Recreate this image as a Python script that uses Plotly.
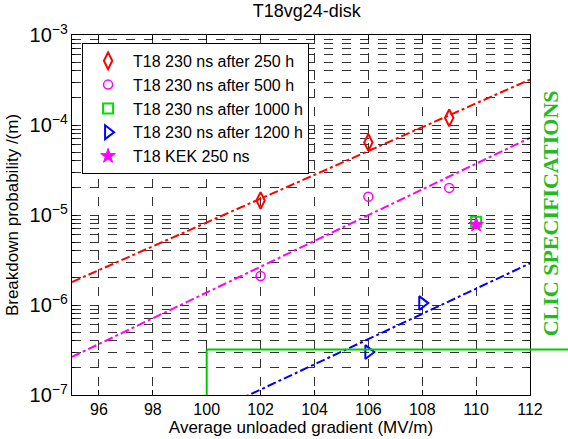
import math
import plotly.graph_objects as go

# Data
x_250h = [102, 106, 109]
y_250h = [1.45e-5, 6.4e-5, 1.2e-4]
x_500h = [102, 106, 109]
y_500h = [2.1e-6, 1.6e-5, 2.0e-5]
x_1000h = [110]
y_1000h = [8.4e-6]
x_1200h = [106, 108]
y_1200h = [3.0e-7, 1.05e-6]
x_kek = [110]
y_kek = [7.8e-6]

fit_x = [95, 112]
fit_250h = [1.8e-6, 3.2e-4]
fit_500h = [2.65e-7, 7.2e-5]
fit_1200h = [1.2e-8, 2.9e-6]

clic_gradient = 100
clic_bdr = 3.2e-7

x_range = [95, 112]
y_decades = [-7, -3]
x_ticks = [96, 98, 100, 102, 104, 106, 108, 110, 112]

fig = go.Figure()

# fit lines
for fx, fy, col in [(fit_x, fit_250h, "red"), (fit_x, fit_500h, "magenta"), (fit_x, fit_1200h, "blue")]:
    fig.add_trace(go.Scatter(x=fx, y=fy, mode="lines", showlegend=False,
                             line=dict(color=col, width=2, dash="dashdot"), hoverinfo="skip"))

fig.add_trace(go.Scatter(x=x_250h, y=y_250h, mode="markers", name="T18 230 ns after 250 h",
                         marker=dict(symbol="diamond-tall-open", color="red", size=12, line=dict(width=2, color="red"))))
fig.add_trace(go.Scatter(x=x_500h, y=y_500h, mode="markers", name="T18 230 ns after 500 h",
                         marker=dict(symbol="circle-open", color="magenta", size=9, line=dict(width=1.5, color="magenta"))))
fig.add_trace(go.Scatter(x=x_1000h, y=y_1000h, mode="markers", name="T18 230 ns after 1000 h",
                         marker=dict(symbol="square-open", color="#00dd00", size=10, line=dict(width=2, color="#00dd00"))))
fig.add_trace(go.Scatter(x=x_1200h, y=y_1200h, mode="markers", name="T18 230 ns after 1200 h",
                         marker=dict(symbol="triangle-right-open", color="blue", size=12, line=dict(width=2, color="blue"))))
fig.add_trace(go.Scatter(x=x_kek, y=y_kek, mode="markers", name="T18 KEK 250 ns",
                         marker=dict(symbol="star", color="magenta", size=11, line=dict(width=1, color="magenta"))))

# CLIC specification lines (vertical at the gradient spec, horizontal at the BDR spec running past the axes)
spec_y = (math.log10(clic_bdr) - y_decades[0]) / (y_decades[1] - y_decades[0])
spec_x = (clic_gradient - x_range[0]) / (x_range[1] - x_range[0])
green = "#00cc00"
fig.add_shape(type="line", xref="paper", yref="paper", x0=spec_x, x1=spec_x, y0=0, y1=spec_y,
              line=dict(color=green, width=2))
fig.add_shape(type="line", xref="paper", yref="paper", x0=spec_x, x1=1.1, y0=spec_y, y1=spec_y,
              line=dict(color=green, width=2))

fig.add_annotation(text="<b>CLIC SPECIFICATIONS</b>", xref="paper", yref="paper",
                   x=1.044, y=0.505, xanchor="center", yanchor="middle", textangle=-90, showarrow=False,
                   font=dict(family="Liberation Serif, Times New Roman, serif", size=22, color="#22bb22"))

sans = "Liberation Sans, Arial, sans-serif"
tick_font = dict(family=sans, size=16, color="black")
title_font = dict(family=sans, size=17, color="black")

fig.update_layout(
    width=568, height=439,
    margin=dict(l=72, r=38, t=35, b=44),
    paper_bgcolor="white", plot_bgcolor="white",
    title=dict(text="T18vg24-disk", x=0.54, xanchor="center", y=0.99, yanchor="top",
               font=dict(family=sans, size=18, color="black")),
    font=tick_font,
    legend=dict(x=0.022, y=0.978, xanchor="left", yanchor="top", bgcolor="white",
                bordercolor="black", borderwidth=1,
                font=dict(family=sans, size=16, color="black"),
                tracegroupgap=0, itemwidth=40),
    xaxis=dict(range=x_range, tickvals=x_ticks, showgrid=True, gridcolor="#333",
               griddash="dash", gridwidth=1, ticks="inside", ticklen=5, tickcolor="black",
               showline=True, linecolor="black", linewidth=1, mirror="ticks", zeroline=False,
               automargin=False,
               title=dict(text="Average unloaded gradient (MV/m)", standoff=2, font=title_font),
               tickfont=tick_font),
    yaxis=dict(type="log", range=y_decades, dtick=1, exponentformat="power", showexponent="all",
               showgrid=True, gridcolor="#333", griddash="dash", gridwidth=1,
               ticks="inside", ticklen=5, tickcolor="black",
               minor=dict(dtick="D1", showgrid=True, gridcolor="#333", griddash="dash",
                          ticks="inside", ticklen=3, tickcolor="black"),
               showline=True, linecolor="black", linewidth=1, mirror="ticks", zeroline=False,
               automargin=False,
               title=dict(text="Breakdown probability /(m)", standoff=6, font=title_font),
               tickfont=tick_font),
)

fig.write_html("out.html", config={"displayModeBar": False},
               post_script="document.body.style.margin='0';document.body.style.overflow='hidden';")
